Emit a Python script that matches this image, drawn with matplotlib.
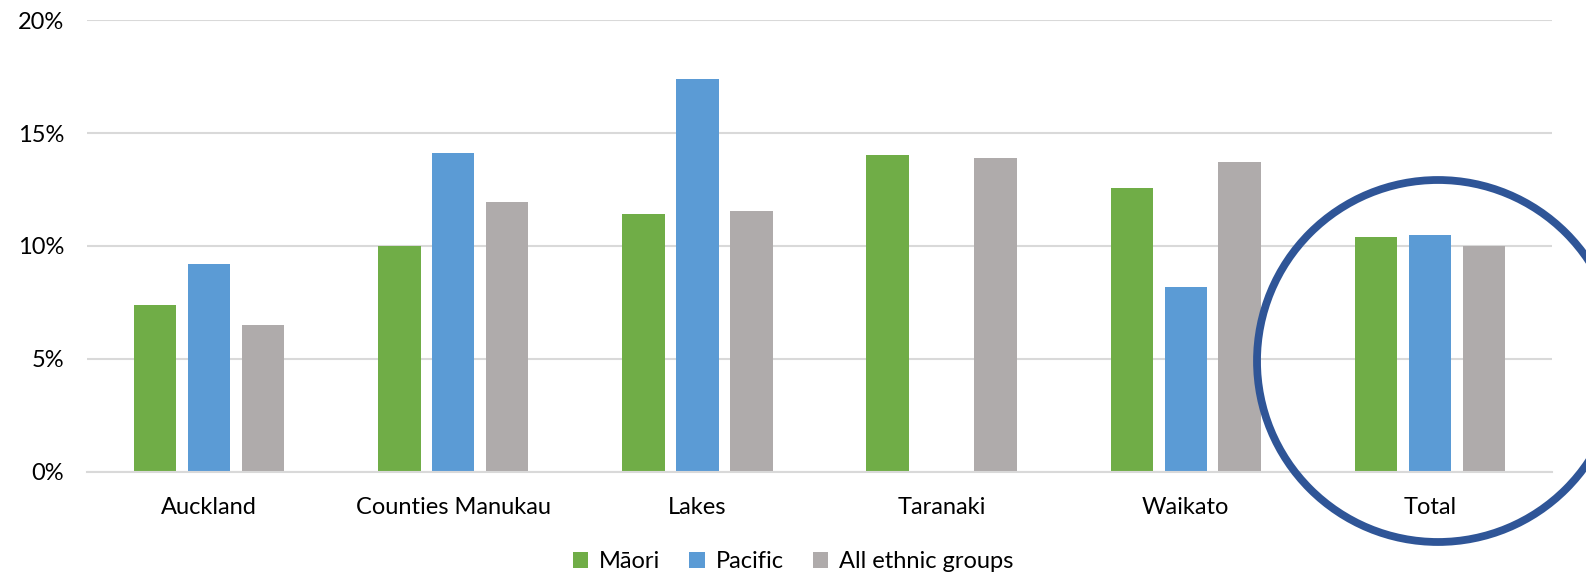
import matplotlib
matplotlib.use("Agg")
import matplotlib.pyplot as plt
import numpy as np
from matplotlib.patches import Ellipse

categories = ["Auckland", "Counties Manukau", "Lakes", "Taranaki", "Waikato", "Total"]
maori = [7.4, 10.0, 11.4, 14.05, 12.55, 10.38]
pacific = [9.2, 14.1, 17.4, np.nan, 8.18, 10.5]
all_groups = [6.5, 11.97, 11.55, 13.9, 13.73, 10.0]
series_names = ["Māori", "Pacific", "All ethnic groups"]
colors = ["#70AD47", "#5B9BD5", "#AFABAB"]
yticks = [0, 5, 10, 15, 20]
ytick_labels = ["0%", "5%", "10%", "15%", "20%"]

plt.rcParams['font.family'] = ['Lato', 'DejaVu Sans']

fig = plt.figure(figsize=(15.86, 5.76), dpi=100)
ax = fig.add_axes([87/1586, 104.5/576, (1552-87)/1586, (471.5-20.4)/576])

x = np.arange(len(categories))
width = 0.174
pitch = 0.221
for j, (vals, name, c) in enumerate(zip([maori, pacific, all_groups], series_names, colors)):
    ax.bar(x + (j - 1) * pitch, vals, width=width, color=c, label=name, zorder=3)

ax.set_xlim(-0.5, len(categories) - 0.5)
ax.set_ylim(0, 20)
ax.set_yticks(yticks)
ax.set_yticklabels(ytick_labels)
ax.set_xticks(x)
ax.set_xticklabels(categories)
ax.tick_params(axis='both', length=0, labelsize=17, colors='#000000')
ax.tick_params(axis='y', pad=16.5)
ax.tick_params(axis='x', pad=18)
ax.grid(axis='y', color='#D9D9D9', linewidth=1.5, zorder=0)
ax.set_axisbelow(True)
for s in ['top', 'right', 'left']:
    ax.spines[s].set_visible(False)
ax.spines['bottom'].set_color('#D9D9D9')
ax.spines['bottom'].set_linewidth(1.5)
ax.spines['bottom'].set_zorder(4)

leg = fig.legend(loc='center', bbox_to_anchor=(0.5, 1 - 562/576), ncol=3, frameon=False,
                 fontsize=17, handlelength=0.65, handleheight=0.65, handletextpad=0.45,
                 columnspacing=1.25)

circ = Ellipse((1438/1586, 1 - 361/576), width=2*181/1586, height=2*181/576,
               transform=fig.transFigure, fill=False, edgecolor='#2F5597', linewidth=5.6,
               clip_on=False)
fig.add_artist(circ)

fig.savefig("out.png", dpi=100)
